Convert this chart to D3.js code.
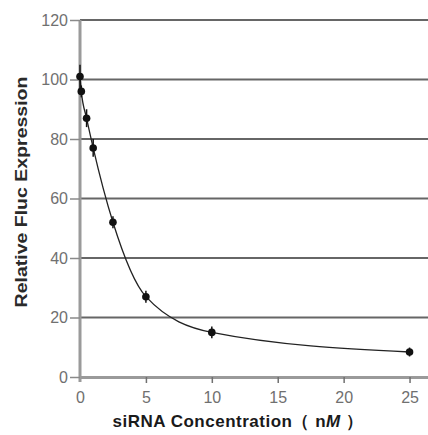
<!DOCTYPE html>
<html>
<head>
<meta charset="utf-8">
<script src="https://cdn.jsdelivr.net/npm/d3@7"></script>
<style>
  body { margin: 0; background: #fff; }
  text { font-family: "Liberation Sans", Arial, sans-serif; }
</style>
</head>
<body>
<div id="chart"></div>
<script>
"use strict"

const concentration = [0, 0.1, 0.5, 1, 2.5, 5, 10, 25];
const expression    = [101, 96, 87, 77, 52, 27, 15, 8.4];
const errors        = [4, 2, 3, 3, 2, 2, 2, 1.5];
const xTicks = [0, 5, 10, 15, 20, 25];
const yTicks = [0, 20, 40, 60, 80, 100, 120];

let margin = {top: 20, right: 0, bottom: 58, left: 80};
let width = 428 - margin.left - margin.right,
    height = 435 - margin.top - margin.bottom;

let svg = d3.select("#chart")
  .append("svg")
  .attr("width", 428)
  .attr("height", 435)
  .append("g")
  .attr("transform", "translate(" + margin.left + "," + margin.top + ")");

let x = d3.scaleLinear().domain([0, 26.4]).range([0, width]);
let y = d3.scaleLinear().domain([0, 120]).range([height, 0]);

let points = concentration.map(function(c, i) {
  return {x: c, y: expression[i], e: errors[i]};
});

// gridlines
svg.append("g")
  .selectAll("line")
  .data(yTicks.filter(function(d) { return d > 0; }))
  .enter().append("line")
  .attr("x1", 0)
  .attr("x2", width)
  .attr("y1", function(d) { return y(d); })
  .attr("y2", function(d) { return y(d); })
  .style("stroke", "#666")
  .style("stroke-width", 2);

// y axis
let yAxis = svg.append("g")
  .call(d3.axisLeft(y).tickValues(yTicks).tickSize(10).tickPadding(2).tickSizeOuter(0));
yAxis.select(".domain")
  .attr("d", "M0," + (height + 5) + "V0")
  .style("stroke", "#9a9a9a").style("stroke-width", 3);
yAxis.selectAll(".tick line").style("stroke", "#8a8a8a").style("stroke-width", 1.5);
yAxis.selectAll("text").style("font-size", "16px").style("fill", "#707070");

// x axis
let xAxis = svg.append("g")
  .attr("transform", "translate(0," + height + ")")
  .call(d3.axisBottom(x).tickValues(xTicks).tickSize(6).tickPadding(9).tickSizeOuter(0));
xAxis.select(".domain").style("stroke", "#9a9a9a").style("stroke-width", 3);
xAxis.selectAll(".tick line").style("stroke", "#707070").style("stroke-width", 1.5)
  .filter(function(d) { return d === 0; }).remove();
xAxis.selectAll("text").style("font-size", "16px").style("fill", "#707070");

// fitted curve through the points
let line = d3.line()
  .x(function(d) { return x(d.x); })
  .y(function(d) { return y(d.y); })
  .curve(d3.curveMonotoneX);

svg.append("path")
  .datum(points)
  .attr("d", line)
  .style("fill", "none")
  .style("stroke", "#222")
  .style("stroke-width", 1.3);

// error bars
svg.append("g")
  .selectAll("line")
  .data(points)
  .enter().append("line")
  .attr("x1", function(d) { return x(d.x); })
  .attr("x2", function(d) { return x(d.x); })
  .attr("y1", function(d) { return y(d.y + d.e); })
  .attr("y2", function(d) { return y(d.y - d.e); })
  .style("stroke", "#111")
  .style("stroke-width", 1.5);

// markers
svg.append("g")
  .selectAll("circle")
  .data(points)
  .enter().append("circle")
  .attr("cx", function(d) { return x(d.x); })
  .attr("cy", function(d) { return y(d.y); })
  .attr("r", 3.8)
  .style("fill", "#111");

// axis titles
svg.append("text")
  .attr("transform", "translate(-53," + 172 + ") scale(1,1.22) rotate(-90)")
  .attr("text-anchor", "middle")
  .style("font-size", "16px")
  .style("font-weight", "bold")
  .style("fill", "#2a2a2a")
  .text("Relative Fluc Expression");

let xt = svg.append("text")
  .attr("x", 158)
  .attr("y", height + 50)
  .attr("text-anchor", "middle")
  .style("font-size", "17px")
  .style("font-weight", "bold")
  .style("letter-spacing", "0.5px")
  .style("fill", "#1a1a1a");
xt.append("tspan").text("siRNA Concentration\uFF08 n");
xt.append("tspan").style("font-style", "italic").text("M");
xt.append("tspan").text(" \uFF09");
</script>
</body>
</html>
